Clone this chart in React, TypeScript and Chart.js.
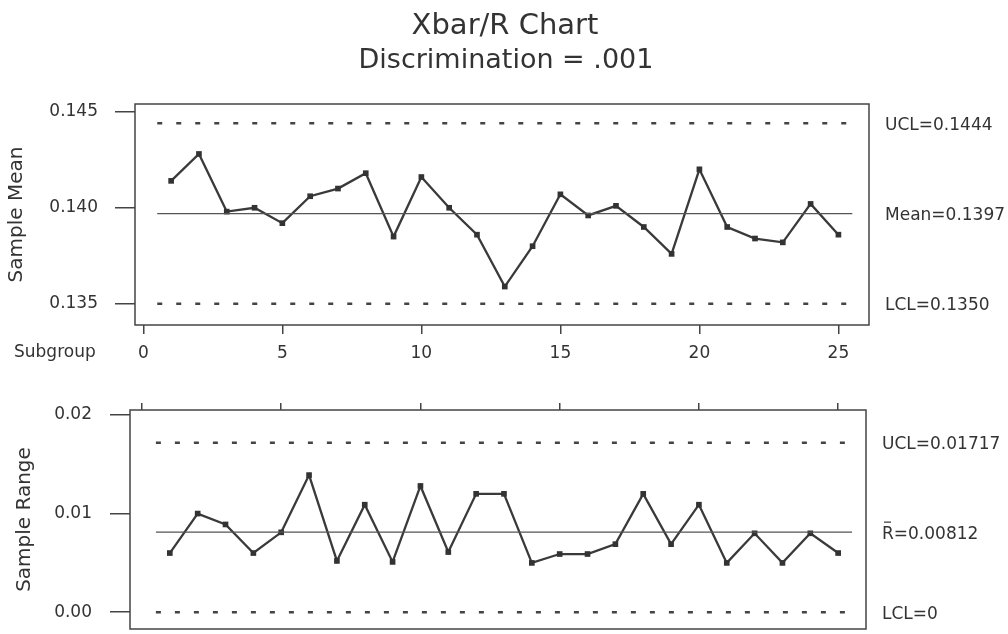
import React, { useEffect, useRef } from "react";
import { Chart, registerables } from "chart.js";

Chart.register(...registerables);

// ---- data ----
const subgroups = [1, 2, 3, 4, 5, 6, 7, 8, 9, 10, 11, 12, 13, 14, 15, 16, 17, 18, 19, 20, 21, 22, 23, 24, 25];
const sampleMeans = [
  0.1414, 0.1428, 0.1398, 0.1400, 0.1392, 0.1406, 0.1410, 0.1418, 0.1385, 0.1416,
  0.1400, 0.1386, 0.1359, 0.1380, 0.1407, 0.1396, 0.1401, 0.1390, 0.1376, 0.1420,
  0.1390, 0.1384, 0.1382, 0.1402, 0.1386,
];
const sampleRanges = [
  0.0060, 0.0100, 0.0089, 0.0060, 0.0081, 0.0139, 0.0052, 0.0109, 0.0051, 0.0128,
  0.0061, 0.0120, 0.0120, 0.0050, 0.0059, 0.0059, 0.0069, 0.0120, 0.0069, 0.0109,
  0.0050, 0.0080, 0.0050, 0.0080, 0.0060,
];
const meanLimits = [0.1444, 0.1397, 0.1350]; // UCL, center, LCL
const rangeLimits = [0.01717, 0.00812, 0]; // UCL, center, LCL
const meanLimitLabels = ["UCL=0.1444", "Mean=0.1397", "LCL=0.1350"];
const rangeLimitLabels = ["UCL=0.01717", "R=0.00812", "LCL=0"];
const limitSpan = [0.5, 25.5];
const subgroupTicks = [0, 5, 10, 15, 20, 25];
const meanTicks = [0.135, 0.14, 0.145];
const rangeTicks = [0, 0.01, 0.02];

const FONT = '"DejaVu Sans", "Liberation Sans", Arial, sans-serif';
const INK = "#333333";
const LINE = "#3a3a3a";

const pts = (xs: number[], ys: number[]) => xs.map((x, i) => ({ x, y: ys[i] }));

function limitDatasets(limits: number[]) {
  const [ucl, center, lcl] = limits;
  const dashed = {
    borderColor: "#444",
    borderWidth: 2.5,
    borderDash: [5, 14],
    pointRadius: 0,
    fill: false,
  };
  return [
    { ...dashed, data: pts(limitSpan, [ucl, ucl]) },
    { data: pts(limitSpan, [center, center]), borderColor: "#555", borderWidth: 1.3, pointRadius: 0, fill: false },
    { ...dashed, data: pts(limitSpan, [lcl, lcl]) },
  ];
}

function seriesDataset(values: number[]) {
  return {
    data: pts(subgroups, values),
    borderColor: LINE,
    borderWidth: 2.3,
    pointStyle: "rect",
    pointRadius: 4,
    pointBackgroundColor: "#333",
    pointBorderColor: "#333",
    pointBorderWidth: 0,
    fill: false,
    tension: 0,
  };
}

function decorPlugin(labels: string[], values: number[], extra?: (ctx: CanvasRenderingContext2D, chart: any) => void) {
  return {
    id: "decor",
    afterDraw(chart: any) {
      const { ctx, chartArea: a, scales } = chart;
      ctx.save();
      ctx.strokeStyle = "#444";
      ctx.lineWidth = 1.5;
      ctx.strokeRect(a.left, a.top, a.right - a.left, a.bottom - a.top);
      ctx.font = `17px ${FONT}`;
      ctx.fillStyle = INK;
      ctx.textAlign = "left";
      ctx.textBaseline = "middle";
      values.forEach((v, i) => {
        const y = scales.y.getPixelForValue(v) + 2;
        ctx.fillText(labels[i], a.right + 16, y);
      });
      if (extra) extra(ctx, chart);
      ctx.restore();
    },
  };
}

const tickFont = { family: FONT, size: 17 };
const gridOpts = (len: number) => ({
  display: true,
  drawOnChartArea: false,
  drawTicks: true,
  tickLength: len,
  color: "#444",
  lineWidth: 1.5,
});

const fixWidth = (w: number) => (s: any) => {
  s.width = w;
  s.paddingTop = 0;
  s.paddingBottom = 0;
};

function topConfig(): any {
  return {
    type: "line",
    data: { datasets: [...limitDatasets(meanLimits), seriesDataset(sampleMeans)] },
    options: {
      animation: false,
      responsive: false,
      maintainAspectRatio: false,
      layout: { padding: { left: 0, top: 104, right: 139, bottom: 259 } },
      plugins: { legend: { display: false }, tooltip: { enabled: false } },
      scales: {
        x: {
          type: "linear",
          position: "bottom",
          min: -0.3,
          max: 26.1,
          afterBuildTicks: (s: any) => {
            s.ticks = subgroupTicks.map((v) => ({ value: v }));
          },
          afterFit: (s: any) => {
            s.height = 50;
          },
          grid: gridOpts(9),
          border: { display: false },
          ticks: { padding: 9, color: INK, font: tickFont, maxRotation: 0, autoSkip: false, callback: (v: any) => String(v) },
        },
        y: {
          type: "linear",
          min: 0.1339,
          max: 0.1454,
          afterBuildTicks: (s: any) => {
            s.ticks = meanTicks.map((v) => ({ value: v }));
          },
          afterFit: fixWidth(135),
          grid: gridOpts(20),
          border: { display: false },
          ticks: { padding: 17, color: INK, font: tickFont, callback: (v: any) => Number(v).toFixed(3) },
          title: { display: true, text: "Sample Mean", color: INK, font: { family: FONT, size: 20 }, padding: { top: 5, bottom: 0 } },
        },
      },
    },
    plugins: [
      decorPlugin(meanLimitLabels, meanLimits, (ctx, chart) => {
        const a = chart.chartArea;
        ctx.textAlign = "center";
        ctx.textBaseline = "alphabetic";
        ctx.font = `29px ${FONT}`;
        ctx.fillText("Xbar/R Chart", 505, 34);
        ctx.font = `27px ${FONT}`;
        ctx.fillText("Discrimination = .001", 506, 68);
        ctx.textAlign = "left";
        ctx.textBaseline = "middle";
        ctx.font = `17px ${FONT}`;
        ctx.fillText("Subgroup", 14, a.bottom + 28);
      }),
    ],
  };
}

function bottomConfig(): any {
  return {
    type: "line",
    data: { datasets: [...limitDatasets(rangeLimits), seriesDataset(sampleRanges)] },
    options: {
      animation: false,
      responsive: false,
      maintainAspectRatio: false,
      layout: { padding: { left: 0, top: 400, right: 142, bottom: 5 } },
      plugins: { legend: { display: false }, tooltip: { enabled: false } },
      scales: {
        x: {
          type: "linear",
          position: "top",
          min: -0.43,
          max: 26.0,
          afterBuildTicks: (s: any) => {
            s.ticks = subgroupTicks.map((v) => ({ value: v }));
          },
          afterFit: (s: any) => {
            s.height = 10;
          },
          grid: gridOpts(7),
          border: { display: false },
          ticks: { display: false },
        },
        y: {
          type: "linear",
          min: -0.0017,
          max: 0.0205,
          afterBuildTicks: (s: any) => {
            s.ticks = rangeTicks.map((v) => ({ value: v }));
          },
          afterFit: fixWidth(130),
          grid: gridOpts(20),
          border: { display: false },
          ticks: { padding: 18, color: INK, font: tickFont, callback: (v: any) => Number(v).toFixed(2) },
          title: { display: true, text: "Sample Range", color: INK, font: { family: FONT, size: 20 }, padding: { top: 13, bottom: 0 } },
        },
      },
    },
    plugins: [
      decorPlugin(rangeLimitLabels, rangeLimits, (ctx, chart) => {
        const a = chart.chartArea;
        const y = chart.scales.y.getPixelForValue(rangeLimits[1]) + 2;
        const x0 = a.right + 16;
        ctx.strokeStyle = INK;
        ctx.lineWidth = 1.2;
        ctx.beginPath();
        ctx.moveTo(x0 + 2, y - 12);
        ctx.lineTo(x0 + 9, y - 12);
        ctx.stroke();
      }),
    ],
  };
}

function ChartCanvas({ make }: { make: () => any }) {
  const ref = useRef<HTMLCanvasElement | null>(null);
  useEffect(() => {
    if (!ref.current) return;
    const chart = new Chart(ref.current, make());
    return () => chart.destroy();
  }, [make]);
  return (
    <canvas
      ref={ref}
      width={1008}
      height={634}
      style={{ position: "absolute", left: 0, top: 0, width: 1008, height: 634 }}
    />
  );
}

export default function App() {
  return (
    <div style={{ position: "absolute", left: 0, top: 0, width: 1008, height: 634, background: "#fff", overflow: "hidden" }}>
      <ChartCanvas make={topConfig} />
      <ChartCanvas make={bottomConfig} />
    </div>
  );
}
